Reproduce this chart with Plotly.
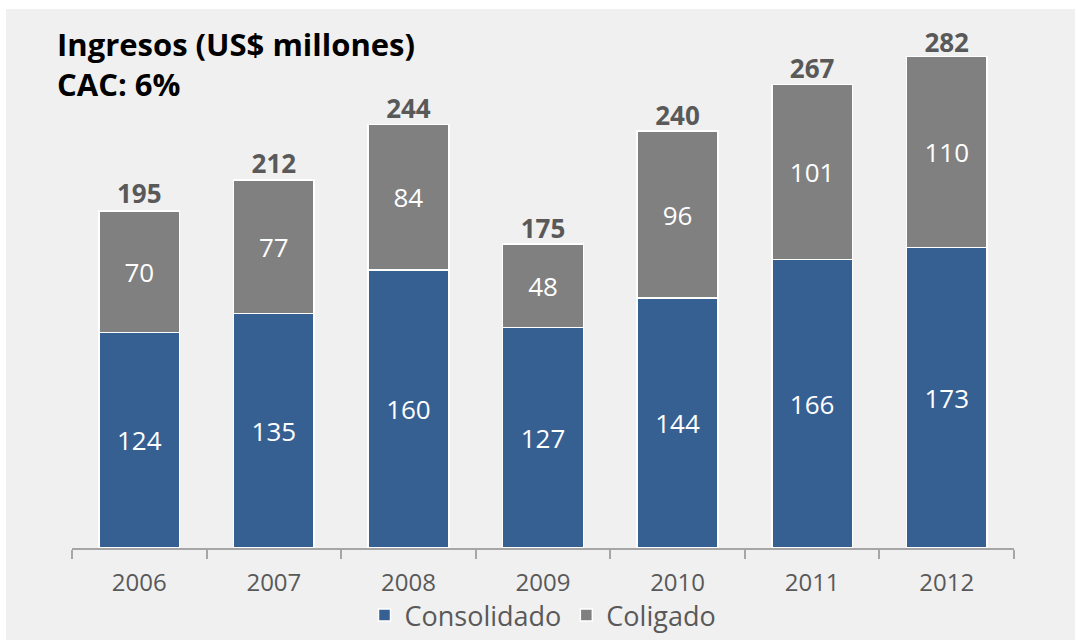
import plotly.graph_objects as go

years = ["2006", "2007", "2008", "2009", "2010", "2011", "2012"]
consolidado = [124, 135, 160, 127, 144, 166, 173]
coligado = [70, 77, 84, 48, 96, 101, 110]
totals = [195, 212, 244, 175, 240, 267, 282]

BLUE = "#366092"
GRAY = "#808080"
FONT = "Open Sans"

PH = 548.0  # paper height in px (margin t=0)

fig = go.Figure()
fig.add_trace(go.Bar(
    x=years, y=consolidado, name="Consolidado",
    marker=dict(color=BLUE, line=dict(color="white", width=1.5)),
    text=consolidado, textposition="inside", insidetextanchor="middle",
    textfont=dict(color="white", size=26, family=FONT),
    hoverinfo="skip",
))
fig.add_trace(go.Bar(
    x=years, y=coligado, name="Coligado",
    marker=dict(color=GRAY, line=dict(color="white", width=1.5)),
    text=coligado, textposition="inside", insidetextanchor="middle",
    textfont=dict(color="white", size=26, family=FONT),
    hoverinfo="skip",
))
fig.add_trace(go.Scatter(
    x=years, y=totals, mode="text", text=[f"<b>{t}</b>" for t in totals],
    textposition="top center", showlegend=False,
    textfont=dict(color="#595959", size=26, family=FONT),
    hoverinfo="skip", cliponaxis=False,
))

fig.update_layout(
    barmode="stack", bargap=0.4,
    width=1076, height=640,
    margin=dict(l=72, r=62, t=0, b=92),
    paper_bgcolor="white", plot_bgcolor="#f0f0f0",
    font=dict(family=FONT, color="#595959"),
    showlegend=True,
    legend=dict(orientation="h", x=0.5, xanchor="center", y=(548 - 616) / PH, yanchor="middle",
                font=dict(size=27, color="#595959", family=FONT),
                bgcolor="rgba(0,0,0,0)", traceorder="normal",
                itemwidth=30),
    xaxis=dict(showgrid=False, showline=True, linecolor="#a6a6a6", linewidth=1.5,
               ticks="outside", tickson="boundaries", ticklen=9, tickcolor="#a6a6a6",
               tickwidth=1.5, ticklabelstandoff=12,
               tickfont=dict(size=24, color="#595959", family=FONT)),
    yaxis=dict(range=[0, 300], domain=[0, 521 / PH], visible=False, showgrid=False),
    shapes=[dict(type="rect", xref="paper", yref="paper",
                 x0=(6 - 72) / 942, x1=(1075 - 72) / 942,
                 y0=-92 / PH, y1=(548 - 9) / PH,
                 fillcolor="#f0f0f0", line=dict(width=0), layer="below")],
    annotations=[dict(text="<b>Ingresos (US$ millones)<br>CAC: 6%</b>", xref="paper", yref="paper",
                      x=(55 - 72) / 942, y=(548 - 21) / PH, xanchor="left", yanchor="top",
                      align="left", showarrow=False,
                      font=dict(size=31, color="black", family=FONT))],
)

fig.write_html("out.html", config={"displayModeBar": False},
               post_script="document.body.style.margin='0';document.body.style.overflow='hidden';")
